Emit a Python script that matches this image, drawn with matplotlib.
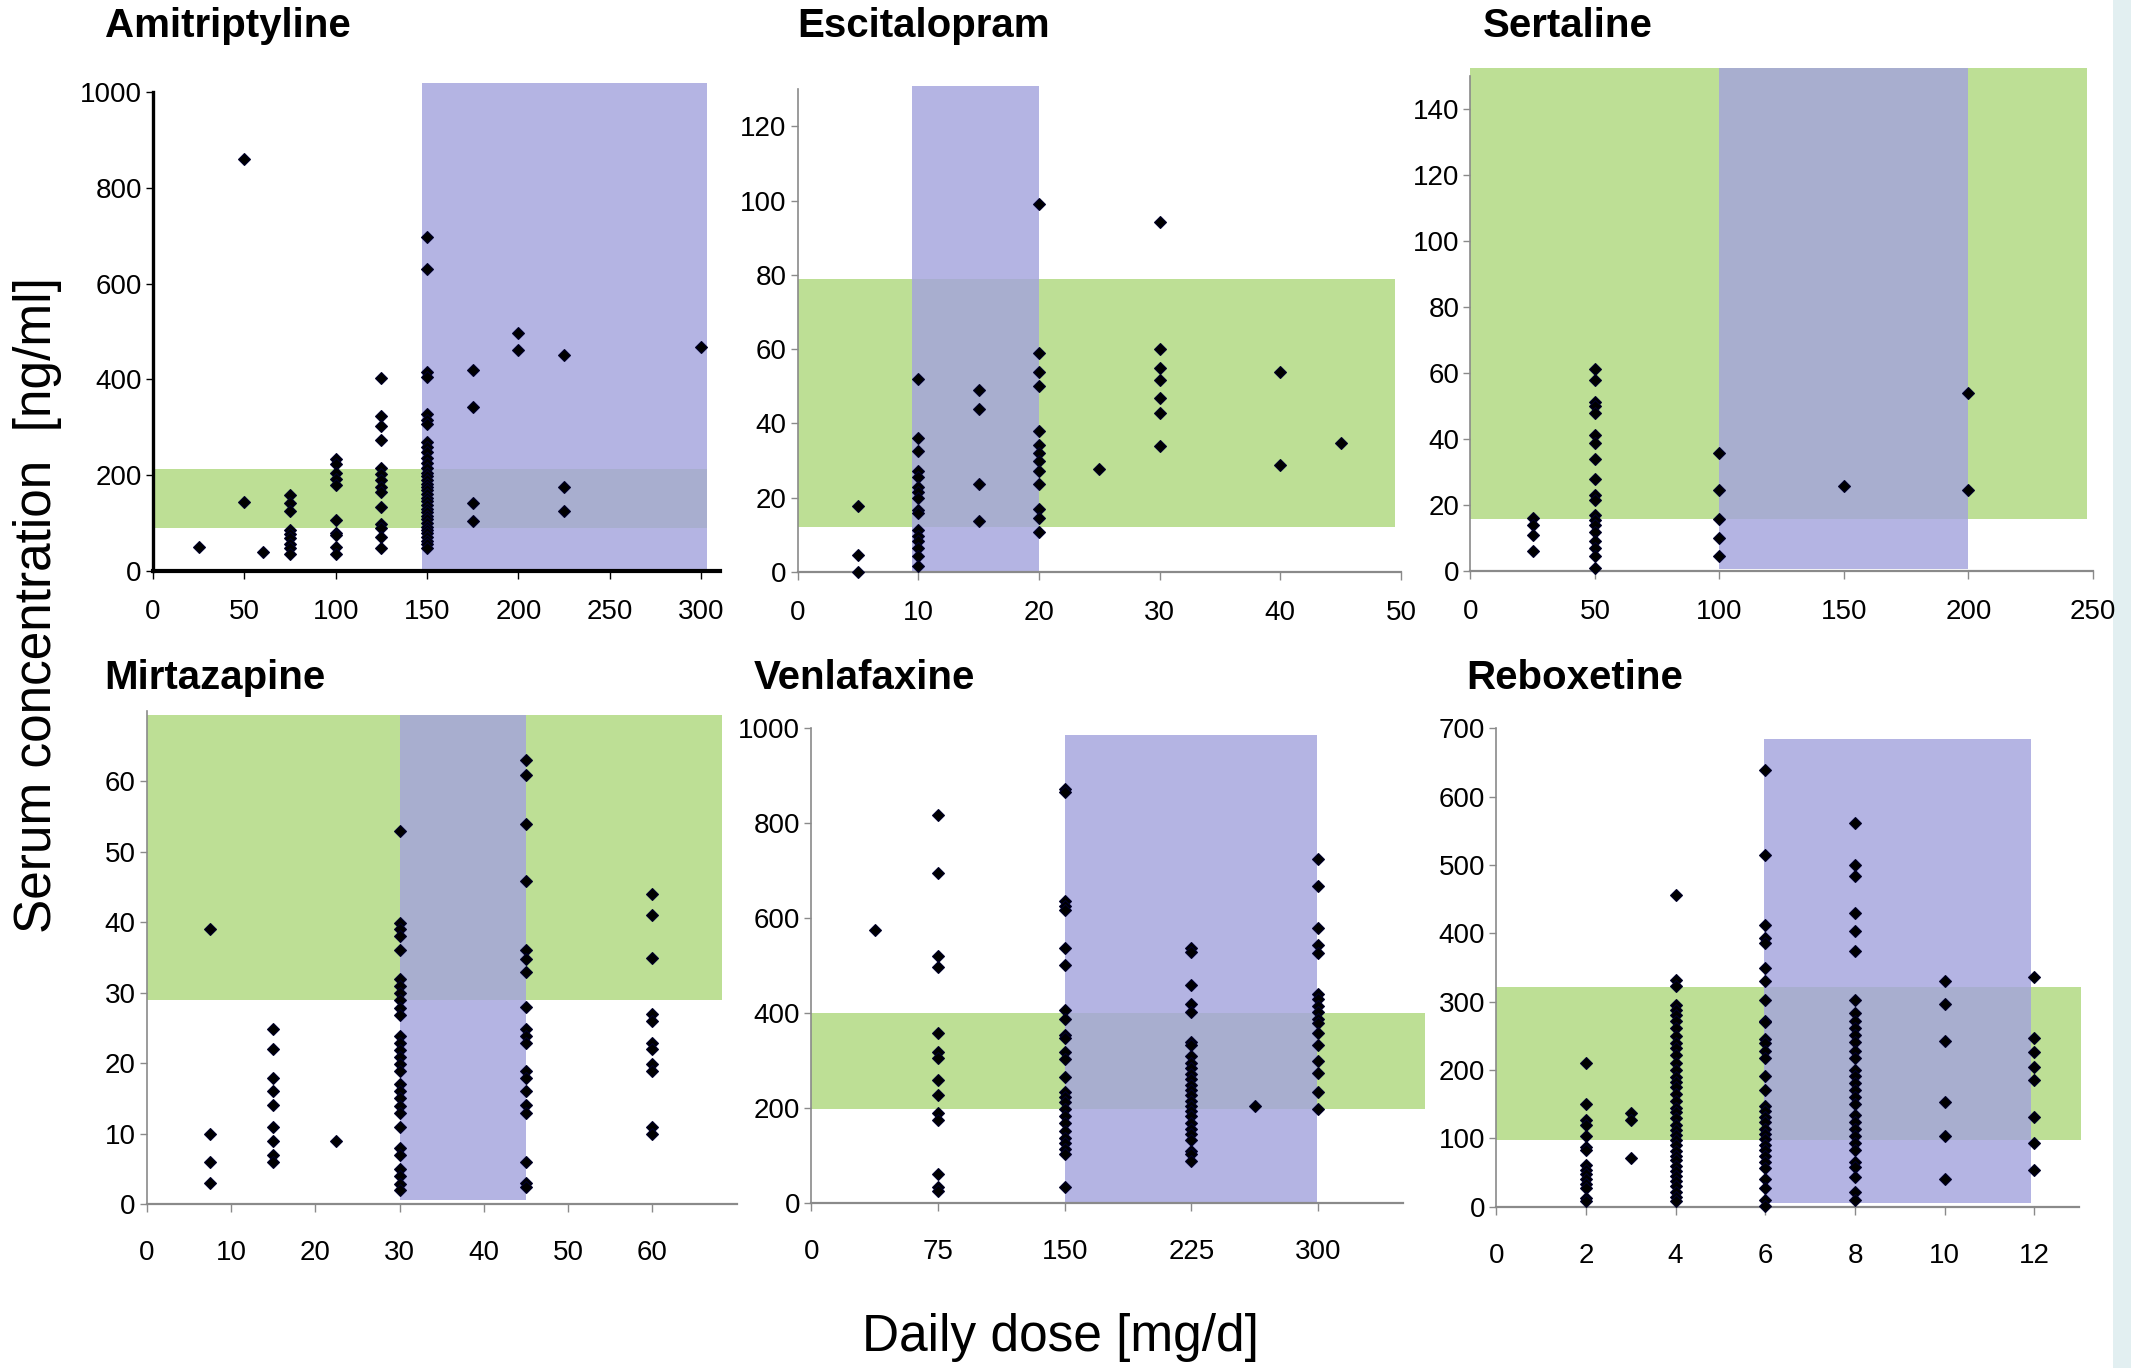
import matplotlib
matplotlib.use("Agg")
import matplotlib.pyplot as plt
from matplotlib.patches import Rectangle

plt.rcParams['font.family'] = ['Liberation Sans', 'DejaVu Sans']

# ---- data: dose columns and the serum concentrations read at each dose ----
ami_doses = [25, 50, 60, 75, 100, 125, 150, 175, 200, 225, 300]
ami_conc = [
    [49],
    [860, 143],
    [39],
    [159, 141, 124, 86, 77, 68, 56, 47, 36],
    [234, 224, 204, 191, 180, 107, 80, 74, 49, 36],
    [402, 323, 302, 274, 214, 203, 189, 176, 165, 133, 98, 90, 70, 48],
    [698, 631, 415, 405, 327, 315, 306, 270, 259, 248, 236, 225, 215, 205, 198, 190,
     182, 175, 168, 160, 152, 145, 138, 130, 122, 115, 108, 100, 92, 85, 78, 70, 62, 55, 48],
    [419, 342, 141, 105],
    [497, 462],
    [452, 175, 125],
    [467],
]

esc_doses = [5, 10, 15, 20, 25, 30, 40, 45]
esc_conc = [
    [17.8, 4.5, 0],
    [51.9, 36, 32.7, 27.1, 25.7, 22.8, 21.6, 19.9, 16.7, 15.8, 11.3, 9.8, 8.4, 6.4, 4.2, 1.6],
    [49, 43.8, 23.8, 13.7],
    [99, 59.1, 53.9, 50, 38, 34.1, 32, 30, 27.1, 23.8, 17, 14.6, 10.8],
    [27.8],
    [94.2, 60, 55, 51.7, 46.9, 42.7, 33.9],
    [53.9, 28.9],
    [34.8],
]

ser_doses = [25, 50, 100, 150, 200]
ser_conc = [
    [15.9, 13.8, 10.8, 5.9],
    [61.1, 57.9, 51.1, 49.8, 47.9, 41.2, 38.7, 33.8, 27.8, 23, 21.3, 17, 15.4, 13.8,
     11.9, 8.9, 6.9, 4.6, 0.8],
    [35.8, 24.6, 15.6, 9.8, 4.6],
    [25.7],
    [53.8, 24.6],
]

mir_doses = [7.5, 15, 22.5, 30, 45, 60]
mir_conc = [
    [39, 10, 6, 3],
    [24.9, 22, 17.9, 16, 14, 11, 9, 7, 6],
    [9],
    [52.9, 39.9, 39, 38, 36, 32, 30.9, 29.9, 28.9, 27.9, 26.9, 23.9, 22.9, 21.9, 20.9,
     19.9, 18.9, 17, 16, 15, 13.9, 12.9, 11, 8, 6.9, 5, 4, 2.9, 2],
    [63, 60.9, 53.9, 45.9, 36, 34.8, 33, 28, 24.9, 23.9, 22.9, 18.9, 17.9, 16, 14,
     12.9, 6, 3, 2.4],
    [44, 41, 34.9, 27, 26, 22.9, 22, 19.9, 18.9, 11, 10],
]

ven_doses = [37.5, 75, 150, 225, 262.5, 300]
ven_conc = [
    [574],
    [818, 696, 520, 497, 358, 317, 306, 258, 227, 189, 174, 60, 33, 24],
    [872, 866, 636, 625, 617, 538, 501, 407, 388, 354, 347, 317, 302, 264, 234, 223,
     212, 197, 182, 167, 152, 137, 125, 114, 103, 33],
    [538, 529, 459, 418, 403, 339, 332, 309, 294, 283, 272, 261, 249, 238, 227, 215,
     204, 193, 182, 167, 155, 144, 133, 108, 103, 88],
    [204],
    [724, 668, 580, 544, 526, 441, 429, 414, 403, 388, 378, 358, 333, 298, 273, 233, 197],
]

reb_doses = [2, 3, 4, 6, 8, 10, 12]
reb_conc = [
    [210, 151, 127, 120, 103, 88, 83, 61, 54, 48, 40, 34, 27, 13, 9],
    [137, 127, 72],
    [456, 332, 323, 296, 288, 280, 272, 262, 250, 240, 232, 222, 210, 200, 190, 182,
     175, 165, 155, 145, 138, 130, 120, 112, 105, 98, 90, 82, 75, 68, 60, 52, 45, 38,
     30, 22, 15, 8],
    [639, 515, 413, 394, 386, 350, 331, 302, 272, 270, 246, 239, 228, 217, 192, 171,
     148, 140, 132, 124, 114, 106, 99, 91, 83, 75, 65, 57, 41, 27, 10, 1],
    [561, 500, 484, 430, 403, 374, 302, 283, 272, 262, 251, 241, 228, 218, 200, 192,
     181, 171, 161, 150, 135, 124, 114, 104, 93, 83, 65, 58, 44, 21, 10],
    [330, 297, 242, 153, 103, 40],
    [336, 247, 227, 205, 185, 131, 93, 54],
]

titles = ["Amitriptyline", "Escitalopram", "Sertaline", "Mirtazapine", "Venlafaxine", "Reboxetine"]

# reference ranges: green = concentration range, blue = dose range (x0, x1, y0, y1)
green_bands = [(0, 303, 90, 212), (0, 49.5, 12, 79), (0, 247.5, 15.6, 152.4),
               (0, 68.3, 29, 69.4), (0, 363, 197, 400), (0, 13.04, 97.5, 321)]
blue_bands = [(147, 303, 0, 1020), (9.5, 20, 0.3, 131), (100, 200, 0.5, 152.4),
              (30, 45, 0.5, 69.4), (150, 299.5, 0, 986), (5.96, 11.93, 5, 685)]

W, H = 2131, 1368
fig = plt.figure(figsize=(W / 100, H / 100), dpi=100)

# axes boxes in pixels: x0, x_end, y0(bottom), y_top
boxes = [(152.9, 719.5, 570.8, 92.4), (797.7, 1401.0, 572.0, 89.3), (1470.4, 2092.9, 570.8, 75.7),
         (146.8, 736.5, 1204.0, 711.0), (811.3, 1402.7, 1202.7, 728.4), (1496.2, 2079.3, 1206.8, 728.4)]
xlims = [(0, 310), (0, 50), (0, 250), (0, 70), (0, 350), (0, 13)]
ylims = [(0, 1000), (0, 130), (0, 150), (0, 70), (0, 1000), (0, 700)]
xticks = [range(0, 301, 50), range(0, 51, 10), range(0, 251, 50), range(0, 61, 10),
          range(0, 301, 75), range(0, 13, 2)]
yticks = [range(0, 1001, 200), range(0, 121, 20), range(0, 141, 20), range(0, 61, 10),
          range(0, 1001, 200), range(0, 701, 100)]
title_pos = [(104.6, 26), (797.7, 26), (1482.7, 26), (104.6, 678), (754, 678), (1466, 678)]

all_doses = [ami_doses, esc_doses, ser_doses, mir_doses, ven_doses, reb_doses]
all_conc = [ami_conc, esc_conc, ser_conc, mir_conc, ven_conc, reb_conc]

green = "#bddf95"
blue = (164 / 255, 164 / 255, 221 / 255)

for i in range(6):
    x0, x1, y0, y1 = boxes[i]
    ax = fig.add_axes([x0 / W, (H - y0) / H, (x1 - x0) / W, (y0 - y1) / H])
    ax.set_xlim(xlims[i])
    ax.set_ylim(ylims[i])
    g = green_bands[i]
    b = blue_bands[i]
    ax.add_patch(Rectangle((g[0], g[2]), g[1] - g[0], g[3] - g[2], facecolor=green,
                           edgecolor="none", zorder=0, clip_on=False))
    ax.add_patch(Rectangle((b[0], b[2]), b[1] - b[0], b[3] - b[2], facecolor=blue, alpha=0.82,
                           edgecolor="none", zorder=1, clip_on=False))
    for d, vals in zip(all_doses[i], all_conc[i]):
        ax.plot([d] * len(vals), vals, linestyle="none", marker="D", ms=6.3,
                color="black", mec="#00002a", mew=0.8, zorder=3, clip_on=False)

    ax.spines["top"].set_visible(False)
    ax.spines["right"].set_visible(False)
    ax.set_facecolor("none")
    if i == 0:
        spine_c, lw = "black", 2.4
    else:
        spine_c, lw = "#8a8a8a", 1.6
    ax.spines["left"].set_color(spine_c)
    ax.spines["bottom"].set_color(spine_c)
    ax.spines["left"].set_linewidth(lw if i == 0 else 1.2)
    ax.spines["bottom"].set_linewidth(lw + 0.6 if i == 0 else lw)
    ax.set_xticks(list(xticks[i]))
    ax.set_yticks(list(yticks[i]))
    xpad = 14 if i < 3 else 20
    ax.tick_params(axis="x", direction="out", length=6, width=1, color=spine_c,
                   labelsize=20, pad=xpad)
    ax.tick_params(axis="y", direction="out", length=5, width=1, color=spine_c,
                   labelsize=20, pad=3)
    fig.text(title_pos[i][0] / W, 1 - title_pos[i][1] / H, titles[i], fontsize=29,
             fontweight="bold", ha="left", va="center")

fig.text(1060 / W, 1 - 1338 / H, "Daily dose [mg/d]", fontsize=37, ha="center", va="center")
fig.text(38 / W, 1 - 605 / H, "Serum concentration  [ng/ml]", fontsize=37, rotation=90,
         ha="center", va="center")

# light slide-background strip on the right edge
fig.patches.append(Rectangle((2113 / W, 0), 1 - 2113 / W, 1, transform=fig.transFigure,
                             facecolor="#e2eff1", edgecolor="none", zorder=-1))

fig.savefig("out.png", dpi=100)
